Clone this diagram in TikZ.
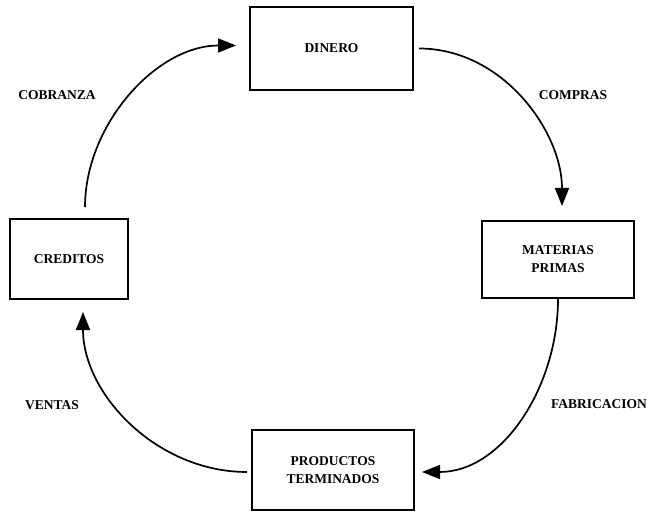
\documentclass[tikz,border=0pt]{standalone}
\usepackage{fontspec}
\setmainfont{Liberation Serif}
\usepackage{tikz}
\usetikzlibrary{arrows.meta}

\begin{document}
\begin{tikzpicture}[x=1pt, y=1pt, >={Triangle[length=18pt, width=14pt]},
    caja/.style={draw, line width=2pt, minimum width=#1, inner sep=0pt,
      font=\fontsize{13.5}{18}\selectfont\bfseries, align=center},
    flujo/.style={->, line width=1.7pt},
    rotulo/.style={font=\fontsize{13.5}{16}\selectfont\bfseries}]
      \useasboundingbox (0,0) rectangle (652,512);
      % las cuatro etapas del ciclo
      \node[caja=163pt, minimum height=83pt] (dinero) at (331.5, 463.5) {DINERO};
      \node[caja=152pt, minimum height=77pt] (materias) at (558, 252.5) {MATERIAS\\PRIMAS};
      \node[caja=162pt, minimum height=80pt] (productos) at (333, 42) {PRODUCTOS\\TERMINADOS};
      \node[caja=118pt, minimum height=80pt] (creditos) at (69, 253) {CREDITOS};
      % flechas del ciclo
      \draw[flujo, shorten <=5pt, shorten >=14pt] (dinero.east) to[out=0, in=90]
        ([xshift=4pt]materias.north);
      \draw[flujo, shorten >=7pt] (materias.south) to[out=-90, in=0]
        ([yshift=-2pt]productos.east);
      \draw[flujo, shorten <=4pt, shorten >=12pt] ([yshift=-2pt]productos.west) to[out=180, in=-90]
        ([xshift=14pt]creditos.south);
      \draw[flujo, shorten <=11pt, shorten >=13pt] ([xshift=16pt]creditos.north) to[out=90, in=180]
        ([yshift=3pt]dinero.west);
      \node[rotulo] (compras) at (573, 417) {COMPRAS};
      \node[rotulo] (fabricacion) at (599, 108) {FABRICACION};
      \node[rotulo] (ventas) at (52, 107) {VENTAS};
      \node[rotulo] (cobranza) at (57, 417) {COBRANZA};
    \end{tikzpicture}
\end{document}
